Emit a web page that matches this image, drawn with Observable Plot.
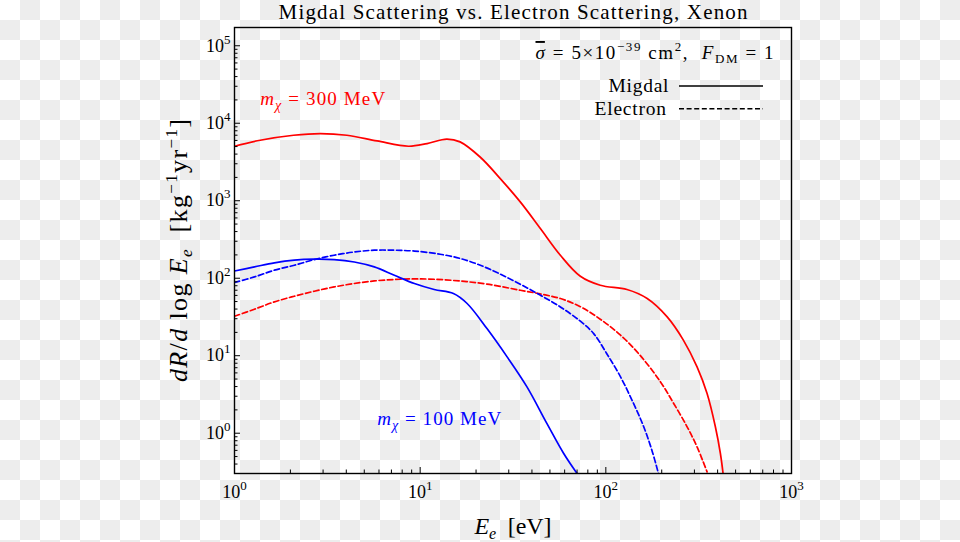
<!DOCTYPE html>
<html><head><meta charset="utf-8">
<script src="https://cdn.jsdelivr.net/npm/d3@7"></script>
<script src="https://cdn.jsdelivr.net/npm/@observablehq/plot@0.6"></script>
<style>
html,body{margin:0;padding:0;}
body{width:960px;height:542px;overflow:hidden;background:repeating-conic-gradient(#ededed 0 25%, #ffffff 0 50%) 0 0/40px 40px;}
svg{display:block}
</style></head><body><div id="chart"></div>
<script>
// ---- data (E in eV, rate in kg^-1 yr^-1) ----
const energyMigdal300 = [1, 1.375, 2.08, 2.9, 4.03, 5.86, 8.66, 10.9, 13.9, 16.4, 21.1, 27.0, 34.6, 44.4, 56.9, 72.9, 93.3, 130, 167, 214, 262, 310, 351, 389, 414, 428];
const rateMigdal300   = [5050, 6040, 7000, 7360, 7000, 5910, 5050, 5470, 6250, 5750, 3640, 1930, 966, 438, 198, 106, 81.2, 71.5, 54.7, 31.7, 15.8, 7.17, 3.25, 1.21, 0.547, 0.302];

const energyMigdal100 = [1, 1.28, 1.64, 2.10, 2.69, 3.44, 4.42, 5.66, 7.26, 9.31, 11.9, 15.1, 17.9, 22.9, 29.4, 37.6, 48.2, 59.3, 70.0];
const rateMigdal100   = [124, 140, 158, 171, 176, 174, 162, 140, 109, 85.4, 71.5, 63.5, 47.2, 22.4, 9.66, 3.96, 1.33, 0.547, 0.302];

const energyElectron100 = [1, 1.28, 1.64, 2.10, 2.69, 3.44, 4.42, 5.66, 7.26, 9.31, 12.8, 16.4, 21.1, 27.0, 34.6, 44.4, 56.9, 72.9, 86.0, 101, 120, 141, 160, 177, 192];
const rateElectron100   = [88.1, 104, 127, 147, 174, 198, 218, 230, 230, 224, 204, 180, 147, 113, 83.7, 60.4, 42.6, 27.9, 19.3, 10.7, 5.33, 2.42, 1.21, 0.604, 0.302];

const energyElectron300 = [1, 1.28, 1.64, 2.10, 2.69, 3.44, 4.42, 5.66, 7.26, 9.31, 11.9, 16.4, 22.9, 34.6, 44.4, 56.9, 72.9, 93.3, 120, 153, 197, 232, 274, 310, 351];
const rateElectron300   = [32.3, 39.8, 49.5, 58.6, 68.0, 77.2, 85.5, 92.3, 96.2, 98.0, 97, 92, 84, 70.0, 62.7, 54.7, 42.9, 29.6, 18.4, 10.1, 4.59, 2.42, 1.21, 0.666, 0.317];

const xTickValues = [1, 10, 100, 1000];
const yTickValues = [1, 10, 100, 1000, 10000, 100000];
const xTickLabels = ["10^0", "10^1", "10^2", "10^3"];
const yTickLabels = ["10^0", "10^1", "10^2", "10^3", "10^4", "10^5"];

const seriesNames = ["Migdal 300", "Migdal 100", "Electron 100", "Electron 300"];
// -------------------------------------------------------------------

function rows(name, es, rs) { return es.map((e, i) => ({series: name, E: e, R: rs[i]})); }
const migdal300 = rows(seriesNames[0], energyMigdal300, rateMigdal300);
const migdal100 = rows(seriesNames[1], energyMigdal100, rateMigdal100);
const electron100 = rows(seriesNames[2], energyElectron100, rateElectron100);
const electron300 = rows(seriesNames[3], energyElectron300, rateElectron300);

const xDomain = [1, 1000], yDomain = [0.302, 1.72e5];
const xMinor = [], yMinor = [];
for (let d = 0; d < 3; d++) for (let k = 2; k <= 9; k++) xMinor.push(k * 10 ** d);
for (let d = -1; d <= 5; d++) for (let k = 2; k <= 9; k++) { const v = k * 10 ** d; if (v > yDomain[0] && v < yDomain[1]) yMinor.push(v); }

const W = 960, H = 542, mL = 234, mR = 169, mT = 27, mB = 69;
const fw = W - mL - mR, fh = H - mT - mB;
const serif = "'Liberation Serif', 'DejaVu Serif', serif";
const lineOpts = {x: "E", y: "R", curve: "catmull-rom", strokeWidth: 1.7};
const mid = {lineAnchor: "middle"};

const chart = Plot.plot({
  width: W, height: H, marginLeft: mL, marginRight: mR, marginTop: mT, marginBottom: mB,
  x: {type: "log", domain: xDomain},
  y: {type: "log", domain: yDomain},
  style: {background: "transparent", fontFamily: serif, color: "black"},
  marks: [
    Plot.line(migdal300, {...lineOpts, stroke: "#ff0000", clip: true}),
    Plot.line(electron300, {...lineOpts, stroke: "#ff0000", strokeDasharray: "5.5,2.8", clip: true}),
    Plot.line(migdal100, {...lineOpts, stroke: "#0000ff", clip: true}),
    Plot.line(electron100, {...lineOpts, stroke: "#0000ff", strokeDasharray: "5.5,2.8", clip: true}),
    // ticks pointing inward
    Plot.tickY(yTickValues, {y: d => d, stroke: "black", strokeWidth: 1, insetRight: fw - 6}),
    Plot.tickY(yMinor, {y: d => d, stroke: "black", strokeWidth: 1, insetRight: fw - 3.5}),
    Plot.tickX(xTickValues, {x: d => d, stroke: "black", strokeWidth: 1, insetTop: fh - 6}),
    Plot.tickX(xMinor, {x: d => d, stroke: "black", strokeWidth: 1, insetTop: fh - 3.5}),
    Plot.axisY({ticks: yTickValues, tickSize: 0, tickPadding: 4, fontSize: 18, label: null,
      tickFormat: d => yTickLabels[yTickValues.indexOf(d)]}),
    Plot.axisX({ticks: xTickValues, tickSize: 0, tickPadding: 12, fontSize: 18, label: null,
      tickFormat: d => xTickLabels[xTickValues.indexOf(d)]}),
    Plot.frame({stroke: "black", strokeWidth: 1.4}),
    // title and axis labels
    Plot.text(["Migdal Scattering vs. Electron Scattering, Xenon"], {...mid, frameAnchor: "top", dy: -15, fontSize: 21}),
    Plot.text(["@ylabel"], {...mid, frameAnchor: "left", textAnchor: "middle", dx: -56, rotate: -90, fontSize: 26}),
    Plot.text(["@xlabel"], {...mid, frameAnchor: "bottom", textAnchor: "middle", dy: 53, fontSize: 24}),
    // curve annotations (positioned in data space)
    Plot.text(["@m300"], {...mid, x: () => 1.375, y: () => 20400, textAnchor: "start", fill: "#ff0000", fontSize: 19}),
    Plot.text(["@m100"], {...mid, x: () => 5.87, y: () => 1.52, textAnchor: "start", fill: "#0000ff", fontSize: 19}),
    // legend block
    Plot.text(["@sigma"], {...mid, frameAnchor: "top-right", dx: -18, dy: 25.4, textAnchor: "end", fontSize: 19}),
    Plot.text(["Migdal"], {...mid, frameAnchor: "top-right", dx: -123, dy: 58, textAnchor: "end", fontSize: 19.5}),
    Plot.text(["Electron"], {...mid, frameAnchor: "top-right", dx: -125.5, dy: 81.2, textAnchor: "end", fontSize: 19.5})
  ]
});
document.getElementById("chart").appendChild(chart);

// ---- rich text (sub/superscripts, italics) ----
function rich(el, segs) {
  const sel = d3.select(el); sel.text(null);
  let off = 0;
  for (const s of segs) {
    const target = s.sup ? -s.sup : (s.sub ? s.sub : 0);
    const ts = sel.append("tspan").text(s.t);
    if (target !== off) { ts.attr("dy", target - off); off = target; }
    if (s.i) ts.attr("font-style", "italic");
    if (s.fs) ts.attr("font-size", s.fs);
    if (s.over) ts.style("text-decoration", "overline");
  }
}
const richMap = {
  "@ylabel": [{t: "dR", i: 1}, {t: "/"}, {t: "d", i: 1}, {t: " log "}, {t: "E", i: 1}, {t: "e", i: 1, sub: 5, fs: 17},
              {t: "  [kg"}, {t: "\u22121", sup: 10, fs: 17}, {t: "yr"}, {t: "\u22121", sup: 10, fs: 17}, {t: "]"}],
  "@xlabel": [{t: "E", i: 1}, {t: "e", i: 1, sub: 5, fs: 16}, {t: "  [eV]"}],
  "@m300": [{t: "m", i: 1}, {t: "\u03c7", i: 1, sub: 5, fs: 14}, {t: " = 300 MeV"}],
  "@m100": [{t: "m", i: 1}, {t: "\u03c7", i: 1, sub: 5, fs: 14}, {t: " = 100 MeV"}],
  "@sigma": [{t: "\u03c3", i: 1, over: 1}, {t: " = 5\u00d710"}, {t: "\u221239", sup: 8, fs: 13}, {t: " cm"}, {t: "2", sup: 8, fs: 13},
             {t: ",  "}, {t: "F", i: 1}, {t: "DM", sub: 4, fs: 13}, {t: " = 1"}]
};
const lengthMap = {
  "Migdal Scattering vs. Electron Scattering, Xenon": 469,
  "@ylabel": 263, "@xlabel": 77, "@m300": 125, "@m100": 124, "@sigma": 238, "Migdal": 60, "Electron": 71.5
};
d3.select(chart).selectAll("text").each(function () {
  const txt = this.textContent;
  if (lengthMap[txt]) { this.setAttribute("textLength", lengthMap[txt]); this.setAttribute("lengthAdjust", "spacing"); }
  if (richMap[txt]) rich(this, richMap[txt]);
  else if (/^10\^/.test(txt)) rich(this, [{t: "10"}, {t: txt.slice(3), sup: 8, fs: 13}]);
});

// legend line samples (decoration, pixel space)
const svg = d3.select(chart);
const lx1 = W - mR - 112, lx2 = W - mR - 28;
svg.append("line").attr("x1", lx1).attr("x2", lx2).attr("y1", mT + 59).attr("y2", mT + 59)
  .attr("stroke", "black").attr("stroke-width", 1.5);
svg.append("line").attr("x1", lx1).attr("x2", lx2).attr("y1", mT + 81.7).attr("y2", mT + 81.7)
  .attr("stroke", "black").attr("stroke-width", 1.5).attr("stroke-dasharray", "5,2.6");
</script></body></html>
